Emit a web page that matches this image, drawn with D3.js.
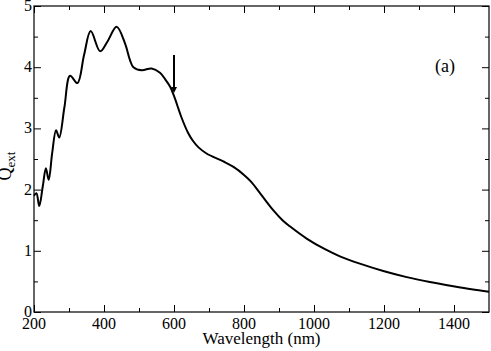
<!DOCTYPE html>
<html>
<head>
<meta charset="utf-8">
<script src="https://cdn.jsdelivr.net/npm/d3@7"></script>
<style>
  body { margin: 0; background: #fff; }
</style>
</head>
<body>
<div class="chart"></div>
<script>
// data
const wavelength = [200, 207, 215, 225, 234, 242, 252, 263, 272, 287, 303, 324, 343, 362, 389, 410, 436, 460, 474, 484, 508, 536, 560, 575, 589, 600, 622, 640, 655, 670, 693, 741, 770, 800, 820, 850, 884, 910, 931, 979, 1030, 1074, 1131, 1198, 1265, 1331, 1398, 1450, 1500];
const qext = [1.90, 1.94, 1.73, 2.05, 2.35, 2.16, 2.60, 2.97, 2.85, 3.35, 3.86, 3.74, 4.20, 4.59, 4.26, 4.42, 4.66, 4.39, 4.12, 4.00, 3.95, 3.98, 3.91, 3.80, 3.68, 3.53, 3.17, 2.93, 2.79, 2.69, 2.59, 2.46, 2.37, 2.24, 2.13, 1.91, 1.66, 1.50, 1.40, 1.20, 1.03, 0.91, 0.79, 0.67, 0.57, 0.49, 0.42, 0.37, 0.33];

const xTicks = [200, 400, 600, 800, 1000, 1200, 1400];
const xMinor = d3.range(300, 1500, 200);
const yTicks = [0, 1, 2, 3, 4, 5];
const yMinor = [0.5, 1.5, 2.5, 3.5, 4.5];

// arrow annotation (wavelength, from, to)
const arrowAt = [600, 4.20, 3.58];

const outerWidth = 491;
const outerHeight = 351;
const margin = {top: 6, left: 34, bottom: 39, right: 2};
const width = outerWidth - margin.left - margin.right;
const height = outerHeight - margin.top - margin.bottom;

const svg = d3.select(".chart")
            .append("svg")
            .attr("width", outerWidth)
            .attr("height", outerHeight)
            .attr("font-family", "'Liberation Serif', 'DejaVu Serif', serif")
            .append("g")
            .attr("transform", `translate(${margin.left}, ${margin.top})`);

const xScale = d3.scaleLinear().domain([200, 1500]).range([0, width]);
const yScale = d3.scaleLinear().domain([0, 5]).range([height, 0]);

const data = wavelength.map((w, i) => ({w: w, q: qext[i]}));

// inward ticks on all four sides
function frame(g, axis, tr) {
    g.attr("transform", tr).call(axis);
    g.selectAll(".tick text").remove();
    g.select(".domain").remove();
    g.selectAll(".tick line").attr("stroke", "#000");
}

svg.append("g").call(frame, d3.axisBottom(xScale).tickValues(xTicks).tickSize(-7), `translate(0, ${height})`);
svg.append("g").call(frame, d3.axisBottom(xScale).tickValues(xMinor).tickSize(-4), `translate(0, ${height})`);
svg.append("g").call(frame, d3.axisTop(xScale).tickValues(xTicks).tickSize(-7), "translate(0, 0)");
svg.append("g").call(frame, d3.axisTop(xScale).tickValues(xMinor).tickSize(-4), "translate(0, 0)");
svg.append("g").call(frame, d3.axisLeft(yScale).tickValues(yTicks).tickSize(-7), "translate(0, 0)");
svg.append("g").call(frame, d3.axisLeft(yScale).tickValues(yMinor).tickSize(-4), "translate(0, 0)");
svg.append("g").call(frame, d3.axisRight(yScale).tickValues(yTicks).tickSize(-7), `translate(${width}, 0)`);
svg.append("g").call(frame, d3.axisRight(yScale).tickValues(yMinor).tickSize(-4), `translate(${width}, 0)`);

svg.append("rect")
    .attr("x", 0).attr("y", 0)
    .attr("width", width).attr("height", height)
    .attr("fill", "none")
    .attr("stroke", "#000")
    .attr("stroke-width", 1.2);

// tick labels
svg.append("g").selectAll("text")
    .data(xTicks)
    .join("text")
    .attr("x", d => xScale(d))
    .attr("y", height + 17)
    .attr("text-anchor", "middle")
    .attr("font-size", 16)
    .text(d => d);

svg.append("g").selectAll("text")
    .data(yTicks)
    .join("text")
    .attr("x", -2)
    .attr("y", d => yScale(d) + 5)
    .attr("text-anchor", "end")
    .attr("font-size", 16)
    .text(d => d);

// axis titles
svg.append("text")
    .attr("x", width / 2)
    .attr("y", height + 32)
    .attr("text-anchor", "middle")
    .attr("font-size", 17)
    .text("Wavelength (nm)");

const yTitle = svg.append("text")
    .attr("transform", `translate(${11 - margin.left}, ${166 - margin.top}) rotate(-90)`)
    .attr("text-anchor", "middle")
    .attr("font-size", 18);
yTitle.append("tspan").text("Q");
yTitle.append("tspan").attr("font-size", 13).attr("dy", 4).text("ext");

// curve
const line = d3.line()
    .x(d => xScale(d.w))
    .y(d => yScale(d.q))
    .curve(d3.curveCatmullRom.alpha(0.5));

svg.append("path")
    .datum(data)
    .attr("fill", "none")
    .attr("stroke", "#000")
    .attr("stroke-width", 2)
    .attr("d", line);

// arrow
const ax = xScale(arrowAt[0]);
const ay0 = yScale(arrowAt[1]);
const ay1 = yScale(arrowAt[2]);
svg.append("line")
    .attr("x1", ax).attr("x2", ax)
    .attr("y1", ay0).attr("y2", ay1 - 5)
    .attr("stroke", "#000")
    .attr("stroke-width", 2);
svg.append("path")
    .attr("d", `M${ax - 3},${ay1 - 6}L${ax + 3},${ay1 - 6}L${ax},${ay1}Z`)
    .attr("fill", "#000");

// panel label
svg.append("text")
    .attr("x", 435 - margin.left)
    .attr("y", 72 - margin.top)
    .attr("font-size", 18)
    .text("(a)");
</script>
</body>
</html>
